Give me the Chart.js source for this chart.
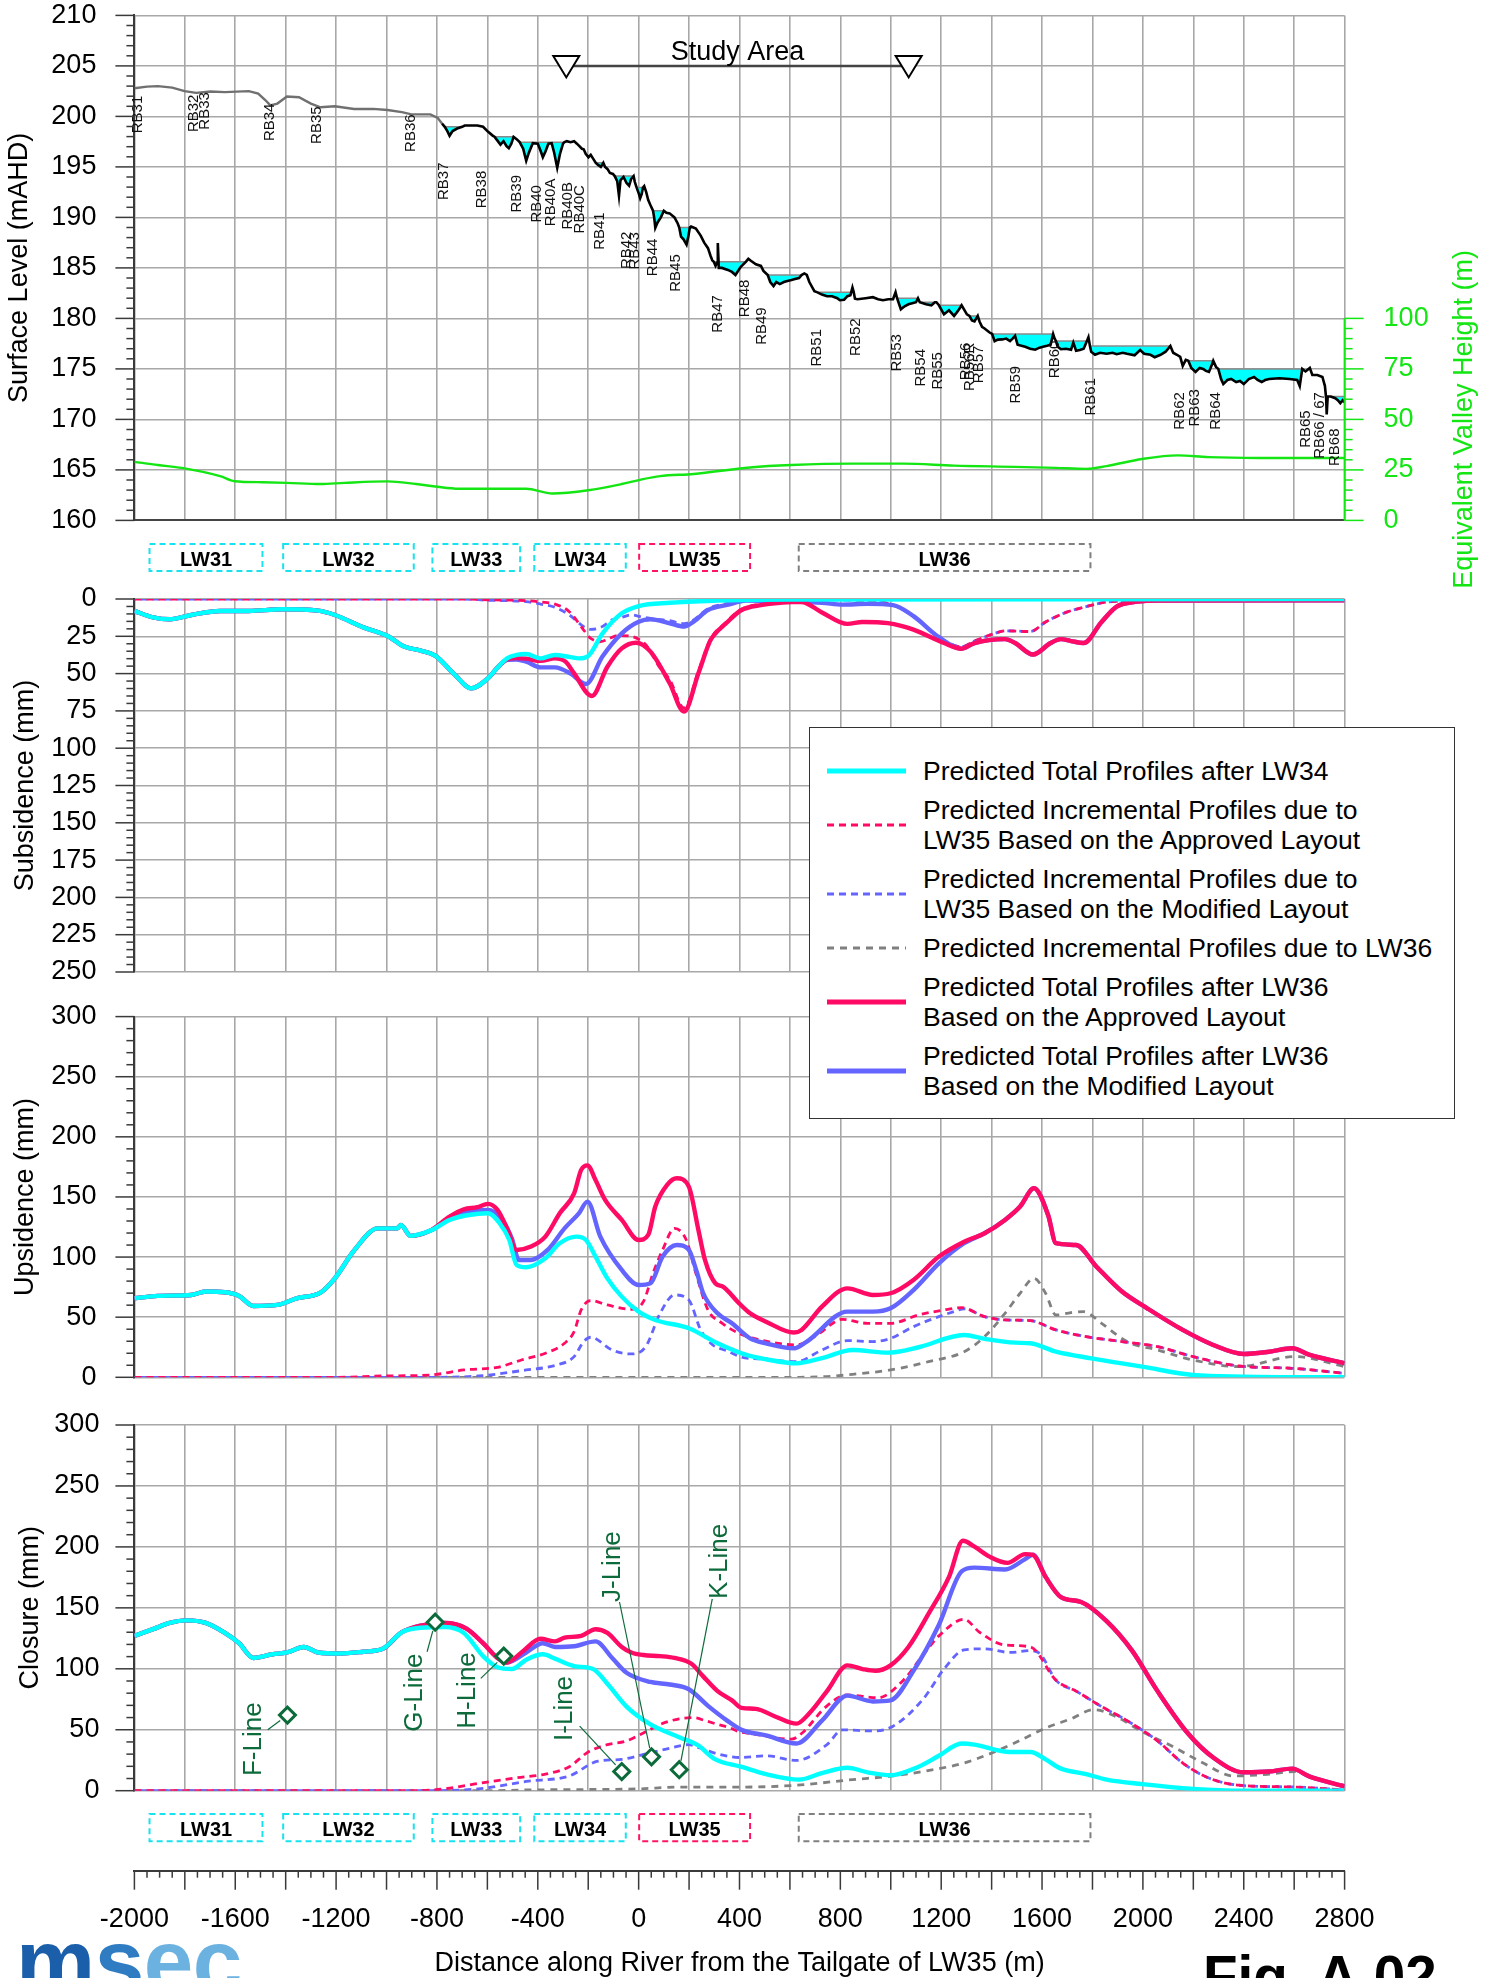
<!DOCTYPE html>
<html lang="en">
<head>
<meta charset="utf-8">
<title>River profile – subsidence, upsidence and closure along the river</title>
<script src="https://cdn.jsdelivr.net/npm/chart.js@4.4.1/dist/chart.umd.min.js"></script>
<style>
  html, body { margin: 0; padding: 0; background: #fff; }
  body { position: relative; width: 1497px; height: 1978px; overflow: hidden;
         font-family: "Liberation Sans", Arial, Helvetica, sans-serif; }
  canvas { position: absolute; left: 0; }
  #legend { position: absolute; left: 809px; top: 727px; width: 646px; height: 392px;
            box-sizing: border-box; border: 1.5px solid #333; background: #fff;
            padding-top: 28px; display: flex; flex-direction: column; gap: 9px; z-index: 5; }
  .entry { position: relative; padding-left: 113px; font-size: 26.5px; line-height: 30px;
           color: #000; white-space: nowrap; }
  .entry svg { position: absolute; left: 17px; top: 50%; transform: translateY(-50%); }
  #logo { position: absolute; left: 16px; top: 1917px; font: bold 89px/89px "Liberation Sans", Arial, sans-serif;
          letter-spacing: -0.5px; z-index: 5; }
  #fig { position: absolute; left: 1203px; top: 1949px; font: bold 56.6px/56.6px "Liberation Sans", Arial, sans-serif;
         color: #000; z-index: 5; }
</style>
</head>
<body>
<canvas id="cRiver" width="1497" height="600" style="top:0"></canvas>
<canvas id="cSubs" width="1497" height="455" style="top:540px"></canvas>
<canvas id="cUps" width="1497" height="400" style="top:995px"></canvas>
<canvas id="cClos" width="1497" height="465" style="top:1395px"></canvas>
<canvas id="cAxis" width="1497" height="118" style="top:1860px"></canvas>
<div id="legend"></div>
<div id="logo"><span style="color:#1b5ea9">m</span><span style="color:#2f7cc2">s</span><span style="color:#6cb2e1">ec</span></div>
<div id="fig">Fig. A.02</div>
<script>
// ---------------------------------------------------------------------------
// River bed profile (distance along river, m) / bed level and pool surface (mAHD)
// ---------------------------------------------------------------------------
const riverX = [-2000,-1950,-1907,-1850,-1801,-1755,-1698,-1641,-1546,-1509,-1480,-1461,-1433,-1395,-1347,-1300,-1262,-1205,-1129,-1053,-996,-939,-901,-826,-797,
  -780,-769,-760,-750,-738,-720,-700,-690,-640,-617,-598,-579,-572,-560,-548,-536,-524,-515,-505,-496,-484,
  -472,-458,-446,-437,-420,-400,-389,-380,-370,-358,-345,-335,-323,-312,-300,-294,-285,-270,-256,-245,-237,-225,-218,-210,-199,-190,-180,
  -170,-161,-150,-140,-133,-124,-114,-102,-95,-85,-78,-72,-60,-48,-38,-30,-20,-15,-8,0,6,12,17,22,30,38,47,
  57,62,66,75,88,100,110,123,142,155,161,168,178,190,197,203,208,227,246,260,275,285,292,
  298,305,311,314,318,330,354,370,384,405,425,435,445,465,485,495,
  512,522,535,546,560,576,590,606,620,636,646,657,667,677,697,
  707,727,747,767,788,798,815,828,840,848,853,858,868,900,929,950,969,990,1009,1019,
  1025,1040,1055,1070,1085,1100,1108,1115,1140,1161,1175,1181,1191,1211,1231,1251,1262,1271,1281,1302,
  1312,1322,1332,1345,1352,1362,1372,1382,1392,
  1402,1412,1425,1442,1458,1473,1483,1493,1503,1518,1533,1553,1573,1590,1604,1620,1634,1644,1650,
  1655,1662,1675,1695,1715,1724,1735,1750,1765,1778,1784,
  1790,1795,1810,1830,1856,1880,1896,1920,1937,1967,1989,2005,2030,2047,2070,2090,2109,
  2120,2135,2148,2158,2170,2180,2192,2209,2225,2239,2250,2262,2272,2279,2290,
  2299,2310,2319,2335,2350,2370,2385,2400,2420,2441,2455,2471,2485,2501,2541,2582,2612,2622,2632,
  2645,2662,2672,2692,2712,2722,2727,2729,2733,2745,2763,2773,2783,2792,2800];
const bedLevel = [202.79,202.95,203.0,202.85,202.5,202.33,202.47,202.4,202.5,202.26,201.6,201.09,201.27,201.97,201.9,201.27,200.9,201.0,200.74,200.74,200.63,200.42,200.2,200.2,199.85,
  199.3,198.97,198.6,198.08,198.55,198.8,198.97,199.1,199.1,198.97,198.5,198.1,197.98,197.6,197.2,197.55,197.05,196.85,197.3,197.98,197.75,
  197.45,196.8,195.6,196.3,197.35,197.3,196.6,195.96,196.5,197.3,197.35,196.4,194.9,196.3,197.3,197.45,197.55,197.45,197.55,197.3,197.1,196.8,196.75,196.3,195.96,196.2,195.8,
  195.4,195.2,195.0,195.4,195.0,194.8,194.4,194.3,194.09,193.6,192.14,193.7,194.0,193.4,193.13,193.8,194.09,193.5,192.95,192.4,191.9,192.3,192.95,193.1,192.5,191.72,191.2,
  190.66,189.9,188.96,189.5,190.0,190.66,190.45,190.4,190.0,189.4,189.0,188.1,187.83,187.3,188.1,189.0,189.1,188.9,188.2,187.5,186.95,186.2,185.75,
  185.6,185.2,185.5,187.47,185.0,185.0,184.8,184.6,184.3,185.1,185.6,185.9,185.7,185.35,185.2,184.7,
  184.29,183.6,183.2,183.6,183.4,183.6,183.7,183.8,183.9,184.0,184.29,184.45,184.3,183.6,182.7,
  182.6,182.36,182.2,182.2,182.0,181.8,181.85,182.2,182.3,183.06,182.6,181.95,181.9,182.0,182.1,181.9,181.8,181.9,181.9,182.6,
  182.0,180.9,181.2,181.4,181.5,181.6,182.0,181.6,181.4,181.3,181.6,181.6,181.3,180.4,180.8,180.25,180.6,180.9,181.3,180.4,
  180.25,179.8,179.7,180.25,179.7,179.17,179.0,178.8,178.6,
  178.46,177.75,177.9,177.92,178.0,177.75,178.0,178.28,177.4,177.3,177.2,177.0,176.9,177.1,177.2,177.3,177.4,178.46,178.0,
  177.76,177.2,176.95,177.0,176.9,177.6,176.8,176.87,177.0,177.76,178.13,
  177.27,176.7,176.4,176.6,176.5,176.6,176.45,176.6,176.5,176.35,176.87,176.5,176.4,176.16,176.4,176.7,177.27,
  176.6,176.4,176.2,175.3,175.9,175.8,175.1,174.7,175.1,175.0,174.8,174.7,175.3,175.8,175.2,
  175.0,174.0,173.5,173.9,174.0,173.7,173.8,173.5,174.0,174.2,173.9,173.7,173.9,174.0,174.07,174.0,173.9,173.3,175.0,
  174.75,175.1,174.4,174.4,174.2,173.3,172.0,170.5,172.27,172.27,172.1,171.9,171.6,171.9,171.7];
const N = null;
const poolLevel = [N,N,N,N,N,N,N,N,N,N,N,N,N,N,N,N,N,N,N,N,N,N,N,N,N,
  N,198.97,198.97,198.97,198.97,198.97,198.97,N,N,N,N,N,197.98,197.98,197.98,197.98,197.98,197.98,197.98,197.98,N,
  197.45,197.45,197.45,197.45,197.45,197.45,197.45,197.45,197.45,197.45,197.45,197.45,197.45,197.45,197.45,197.45,N,N,N,N,N,N,N,N,N,N,N,
  195.4,195.4,195.4,195.4,N,N,N,N,194.09,194.09,194.09,194.09,194.09,194.09,194.09,194.09,194.09,N,192.95,192.95,192.95,192.95,192.95,N,N,N,N,
  190.66,190.66,190.66,190.66,190.66,190.66,N,N,N,N,189.0,189.0,189.0,189.0,189.0,189.0,N,N,N,N,N,N,N,
  185.6,185.6,185.6,185.6,185.6,185.6,185.6,185.6,185.6,185.6,185.6,N,N,N,N,N,
  184.29,184.29,184.29,184.29,184.29,184.29,184.29,184.29,184.29,184.29,184.29,N,N,N,N,
  182.6,182.6,182.6,182.6,182.6,182.6,182.6,182.6,182.6,182.6,182.6,N,N,N,N,N,N,N,N,N,
  182.0,182.0,182.0,182.0,182.0,182.0,182.0,181.6,181.6,181.6,181.6,N,181.3,181.3,181.3,181.3,181.3,181.3,181.3,N,
  180.25,180.25,180.25,180.25,N,N,N,N,N,
  178.46,178.46,178.46,178.46,178.46,178.46,178.46,178.46,178.46,178.46,178.46,178.46,178.46,178.46,178.46,178.46,178.46,178.46,N,
  177.76,177.76,177.76,177.76,177.76,177.76,177.76,177.76,177.76,177.76,N,
  177.27,177.27,177.27,177.27,177.27,177.27,177.27,177.27,177.27,177.27,177.27,177.27,177.27,177.27,177.27,177.27,177.27,
  N,N,N,N,N,175.8,175.8,175.8,175.8,175.8,175.8,175.8,175.8,175.8,N,
  175.0,175.0,175.0,175.0,175.0,175.0,175.0,175.0,175.0,175.0,175.0,175.0,175.0,175.0,175.0,175.0,175.0,175.0,175.0,
  N,N,N,N,N,N,N,N,N,172.27,172.27,172.27,172.27,172.27,172.27];

// Equivalent valley height along the river (m)
const valleyHeight = [[-2000,29],[-1907,27.4],[-1812,26],[-1660,21.9],[-1603,19.4],[-1490,18.9],[-1395,18.6],[-1262,18],[-1167,18.6],[-996,19.3],[-883,18],[-807,16.8],[-712,15.7],[-446,15.7],[-342,13.3],[-200,14.9],[-67,18],[9,20.2],[85,21.9],[218,23],[442,26.2],[606,27.4],[848,28.1],[1050,28.1],[1251,27.1],[1493,26.5],[1655,26],[1775,25.5],[1856,26.9],[1997,30.4],[2138,32.2],[2259,31.3],[2461,30.9],[2800,30.9]];

// Rock bar labels: name, chainage (m) and level of the label's upper end (mAHD)
const rbNames = ['RB31','RB32','RB33','RB34','RB35','RB36','RB37','RB38','RB39','RB40','RB40A','RB40B','RB40C','RB41','RB42','RB43','RB44','RB45','RB47','RB48','RB49','RB51','RB52','RB53','RB54','RB55','RB56','RB56R','RB57','RB59','RB60','RB61','RB62','RB63','RB64','RB65','RB66 / 67','RB68'];
const rbX = [-1987,-1765,-1721,-1461,-1275,-905,-774,-621,-484,-404,-347,-281,-234,-152,-48,-14,57,146,314,421,489,707,862,1025,1120,1187,1296,1312,1350,1497,1650,1792,2148,2205,2290,2648,2703,2763];
const rbTop = [202.05,202.16,202.4,201.27,200.99,200.2,195.44,194.62,194.2,193.2,193.84,193.5,193.2,190.5,188.6,188.55,187.9,186.35,182.3,183.84,181.1,178.95,180.0,178.45,176.97,176.67,177.6,177.6,177.3,175.3,177.8,174.1,172.7,173.0,172.7,170.9,172.7,169.1];

// Study area limits (m) and level of the marker line (mAHD)
const studyArea = [-287, 1071];
const studyLevel = 205;

// Longwall panels shown under the profiles
const lwNames = ['LW31','LW32','LW33','LW34','LW35','LW36'];
const lwStart = [-1940,-1410,-818,-414,2,635];
const lwEnd   = [-1492,-892,-470,-51,442,1792];
const lwColors = ['#18e2ee','#18e2ee','#18e2ee','#18e2ee','#ff1464','#808080'];

// ---------------------------------------------------------------------------
// Subsidence (mm)
// ---------------------------------------------------------------------------
const subsLeft = [[-2000,8],[-1926,12.3],[-1860,13.6],[-1774,10.7],[-1660,8],[-1546,8],[-1414,6.9],[-1271,7.8],[-1205,10.7],[-1091,19],[-996,24.8],[-930,31.9],[-864,34.6],[-807,38],[-731,50.5],[-664,59.9],[-598,53.2],[-560,46]];
const subsAfterLW34 = [[-522,39.8],[-484,37.5],[-446,36.9],[-389,39.8],[-332,37.5],[-270,39],[-237,39.8],[-200,38.2],[-143,23],[-67,9.6],[0,4.7],[123,2.5],[313,1.1],[600,0.3],[2800,0]];
const subsApproved = [[-522,40.5],[-484,39.6],[-446,40],[-389,41.5],[-332,39.8],[-290,42],[-256,49.8],[-186,65],[-124,45.4],[-67,33.1],[-10,29.3],[47,35.3],[123,56.5],[180,75.5],[237,49.8],[283,28.2],[304,23.1],[344,16.7],[405,7.7],[485,4.1],[606,2.1],[646,2],[727,9],[828,16.7],[888,15.4],[989,16.2],[1090,20.5],[1211,29.5],[1281,33.3]];
const subsModified = [[-522,40.8],[-484,40.5],[-446,42],[-389,45.8],[-332,45.8],[-270,50],[-209,57],[-143,38.4],[-67,23],[0,15.2],[47,13.6],[123,16.3],[180,18.5],[218,15.2],[275,7.4],[351,4],[427,1.1],[606,1.8],[727,2.5],[808,3.8],[908,3.3],[1009,4.1],[1090,11.5],[1191,25.6],[1281,33.3]];
const subsRight = [[1332,29.5],[1453,26.9],[1493,29.5],[1564,37.2],[1634,29.5],[1675,26.9],[1715,28.2],[1765,29.5],[1836,15.4],[1896,5.1],[1977,1.8],[2058,1],[2800,0.8]];
const subsIncApproved = [[-2000,0],[-700,0],[-600,0.5],[-541,0.7],[-446,1.1],[-389,2],[-332,3.4],[-275,8.5],[-218,20.8],[-190,26.4],[-150,28.5],[-124,27],[-80,24.5],[-30,25],[0,27],[30,31],[80,45],[123,54],[180,73],[237,48.5],[283,27.5],[344,16],[405,7],[485,3.5],[606,1],[700,0.3],[900,1],[1009,4]];
const subsIncModified = [[-2000,0],[-700,0],[-600,0.8],[-446,1.8],[-389,3.4],[-332,5.6],[-275,10.7],[-218,18.5],[-190,20.3],[-150,19],[-105,14],[-67,12.3],[-29,10.7],[19,12.3],[66,13.5],[123,14.5],[180,16.5],[218,14],[275,6.5],[351,3],[427,1],[606,0.5],[900,1],[1009,4]];
const subsIncRight = [[1090,11.5],[1191,25.6],[1281,32],[1332,28.2],[1412,23.1],[1453,21.3],[1554,21.8],[1614,15.4],[1695,9],[1775,5.1],[1856,2],[1917,1.5],[2000,0.5],[2800,0]];
const subsIncLW36 = [[400,0],[2800,0]];

// ---------------------------------------------------------------------------
// Upsidence (mm)
// ---------------------------------------------------------------------------
const upsLeft = [[-2000,65.7],[-1907,67.7],[-1774,68.5],[-1717,71.3],[-1641,70.7],[-1585,67.7],[-1528,59.3],[-1433,60.2],[-1357,65.7],[-1262,70.4],[-1205,82.3],[-1129,105.4],[-1034,123.9],[-958,123.9],[-943,126.7],[-905,117.6],[-826,122]];
const upsAfterLW34 = [[-750,130.9],[-674,135],[-598,136.4],[-551,128],[-513,114.2],[-484,93.4],[-446,91.5],[-370,99],[-313,111.5],[-247,117],[-209,114.2],[-171,100.4],[-124,82.3],[-67,67.1],[0,54.6],[66,47.7],[199,40.8],[313,28.3],[427,18.6],[505,15],[626,11.6],[727,16],[848,22.7],[989,20.5],[1110,25],[1291,35.2],[1372,32],[1493,28.8],[1554,28.3],[1655,21.3],[1795,15.8],[1997,8.9],[2199,1.9],[2400,0.6],[2800,0]];
const upsApproved = [[-750,133.6],[-693,139.7],[-640,141.5],[-598,144.2],[-560,139.2],[-522,123.9],[-484,105.9],[-427,108.7],[-370,117],[-313,136.4],[-256,153],[-228,172.5],[-203,176.3],[-171,164],[-133,147.5],[-67,130.9],[0,114.2],[38,118.4],[66,142],[113,160],[151,165.5],[199,158.6],[237,122.5],[263,97.6],[304,78.2],[334,75.4],[398,61.6],[442,53.2],[505,46.3],[616,37.2],[646,39.4],[727,58.8],[828,74],[929,68.5],[999,69.9],[1090,81],[1191,100.4],[1291,112.8]];
const upsModified = [[-750,132],[-674,137.8],[-598,139.2],[-551,133.6],[-503,115.6],[-475,97.6],[-427,97.6],[-361,105.9],[-294,123.9],[-237,136.4],[-203,146.1],[-152,117],[-67,89.3],[0,76.8],[47,78.2],[95,100.4],[151,110],[199,105.9],[230,88],[256,69.9],[313,53.2],[370,44.9],[442,32.4],[505,28.3],[616,24.1],[667,29.7],[828,54.6],[929,54.6],[999,57.4],[1090,72.6],[1191,94.8],[1291,111.5]];
const upsRight = [[1372,119.8],[1453,130.9],[1513,142],[1568,157.2],[1624,135],[1655,111.5],[1735,110],[1816,92],[1917,71.3],[2017,57.4],[2158,39.4],[2279,26.9],[2400,19.4],[2501,21.3],[2592,24.1],[2662,18.6],[2800,11.6]];
const upsIncApproved = [[-2000,0],[-1205,0],[-1016,1.1],[-826,1.9],[-693,6.1],[-560,8.3],[-465,14.4],[-370,20],[-294,28.3],[-256,38],[-228,56],[-190,63.8],[-124,60.2],[-29,56.6],[19,63],[57,86.5],[95,105.9],[142,123.9],[189,114.2],[227,86.5],[275,56],[332,44.9],[398,36.6],[505,30],[626,26.9],[707,35.2],[808,48.2],[908,44.9],[999,44.9],[1110,51.8],[1211,56],[1281,57.9]];
const upsIncModified = [[-2000,0],[-826,0],[-636,1.1],[-446,6.1],[-323,10.3],[-256,17.2],[-218,29.7],[-190,33.3],[-105,22.7],[-29,19.4],[28,25.5],[85,53.2],[142,68.5],[199,64.3],[246,39.4],[294,26.9],[350,22],[405,17],[505,15],[626,13],[727,22.7],[828,30.5],[929,29.7],[999,32.4],[1090,42.1],[1191,50.5],[1251,54.6],[1291,57]];
const upsIncRight = [[1372,50.5],[1453,47.7],[1554,47.1],[1655,39.4],[1775,33.8],[1917,29.7],[2058,25.5],[2199,17.2],[2380,9.4],[2592,7.5],[2800,3.3]];
const upsIncLW36 = [[-2000,0],[600,0],[747,0.6],[848,2.5],[999,6.1],[1150,13],[1291,21.3],[1372,33.8],[1453,53.2],[1513,69.9],[1568,82.3],[1614,69.9],[1655,51.8],[1715,53.8],[1765,54.6],[1836,44.9],[1937,29.7],[2058,22.7],[2199,14.4],[2380,8.9],[2602,17.2],[2800,8.9]];

// ---------------------------------------------------------------------------
// Closure (mm)
// ---------------------------------------------------------------------------
const closLeft = [[-2000,127],[-1926,132.5],[-1860,137.6],[-1793,139.7],[-1717,137.6],[-1641,129.4],[-1585,121],[-1528,108.9],[-1452,111.9],[-1395,113.4],[-1328,117.9],[-1271,113.4],[-1186,112.5],[-1091,114],[-1015,116.4],[-939,130]];
const closAfterLW34 = [[-864,133.7],[-769,134.3],[-693,129.4],[-617,110.4],[-560,101.3],[-503,99.8],[-446,107.4],[-380,111.9],[-332,108.3],[-256,102.2],[-181,99.8],[-124,87.7],[-48,69],[47,54.4],[161,43.9],[243,36.3],[275,30.2],[304,25.7],[405,19.7],[505,13.6],[636,9.1],[727,14.5],[828,18.8],[908,15.1],[999,12.7],[1110,19.7],[1191,28.7],[1281,38.7],[1332,37.8],[1473,31.8],[1554,31.8],[1614,25.7],[1675,18.1],[1775,13.6],[1856,9.1],[1997,5.4],[2199,1.5],[2400,0],[2800,0]];
const closMid = [[-864,135.5],[-769,137.6],[-683,133],[-617,121],[-560,108.9],[-522,105.2]];
const closApproved = [[-465,113.4],[-389,124.6],[-332,122.5],[-294,125.5],[-228,127],[-171,132.5],[-124,129.4],[-67,117.9],[-29,113.4],[19,111.3],[85,110.4],[142,108.9],[208,104.3],[256,93.8],[313,81.7],[370,74.1],[408,68],[465,67.1],[546,60.5],[626,55],[677,63.5],[747,81.7],[828,102.8],[888,99.8],[938,98.3],[999,102.8],[1070,117.9],[1150,145.2],[1231,175.4],[1286,205],[1332,200.2],[1392,192],[1463,186.9],[1533,194.1]];
const closModified = [[-446,113.4],[-380,121],[-332,117.9],[-256,118.5],[-171,122.5],[-105,108.9],[-48,96.8],[47,89.2],[123,87.1],[199,83.2],[275,69.6],[351,57.5],[408,49.9],[505,45.4],[626,38.7],[727,57.5],[828,78],[929,73.2],[999,74.1],[1090,98.3],[1191,136.1],[1281,179.9],[1332,183],[1453,181.5],[1533,190]];
const closRight = [[1564,193.5],[1614,175.4],[1675,158.8],[1755,154.8],[1856,139.1],[1957,114.9],[2058,81.7],[2179,46.9],[2279,27.2],[2400,15.1],[2501,15.7],[2592,18.1],[2662,11.5],[2800,3.6]];
const closIncApproved = [[-2000,0],[-900,0],[-769,1.5],[-636,6],[-484,10.6],[-370,13.6],[-275,19.7],[-200,31.8],[-124,37.8],[-48,40.8],[28,48.4],[85,54.4],[161,59],[218,59.9],[263,57.5],[313,54.4],[364,51.4],[398,48.4],[445,46.9],[606,42.3],[646,46.9],[747,69.6],[828,78.6],[949,76.2],[1050,90.7],[1130,111.9],[1191,127],[1291,140.6],[1352,130],[1453,119.5],[1554,117.9]];
const closIncModified = [[-2000,0],[-900,0],[-636,1.5],[-446,7.6],[-275,12.1],[-162,24.2],[-67,25.7],[28,30.2],[123,34.8],[199,37.8],[243,35],[313,30.2],[405,27.2],[505,28.7],[626,24.8],[747,37.8],[808,49.9],[929,49],[1009,52.9],[1130,75.6],[1211,99.8],[1291,115.5],[1372,116.4],[1473,113.4],[1554,114.9],[1594,112]];
const closIncRight = [[1655,90.7],[1735,81.7],[1836,69],[1937,57.5],[2058,40.8],[2158,22.7],[2259,10.6],[2380,4.5],[2602,3],[2800,0.6]];
const closIncLW36 = [[-2000,0],[-600,0],[-446,0.6],[-256,0.9],[0,1.5],[161,3],[427,3],[626,4.5],[848,9.1],[1009,12.1],[1191,18.1],[1291,22.7],[1392,30.2],[1493,39.3],[1614,51.4],[1715,59],[1806,66.5],[1896,60.5],[1997,48.4],[2118,36.3],[2239,22.7],[2360,12.1],[2501,13.6],[2602,15.7],[2702,9.1],[2800,3]];

// Closure monitoring lines: name, chainage (m), closure (mm)
const monNames = ['F-Line','G-Line','H-Line','I-Line','J-Line','K-Line'];
const monX = [-1393,-807,-535,-67,51,161];
const monValue = [62,138.2,110.4,15.7,27.8,17.2];
// label anchor (chainage, closure at start of text) and leader start
const monLabelX = [-1527,-886,-678,-294,-101,322];
const monLabelY = [12,48.4,50.8,40.8,154.8,157.3];
const monLeadX = [-1471,-839,-626,-234,-76,292];
const monLeadY = [50,114,92.2,52.9,154.8,157.3];

// Series names as set out in the legend
const seriesNames = [
  ['Predicted Total Profiles after LW34'],
  ['Predicted Incremental Profiles due to', 'LW35 Based on the Approved Layout'],
  ['Predicted Incremental Profiles due to', 'LW35 Based on the Modified Layout'],
  ['Predicted Incremental Profiles due to LW36'],
  ['Predicted Total Profiles after LW36', 'Based on the Approved Layout'],
  ['Predicted Total Profiles after LW36', 'Based on the Modified Layout']
];

// ---------------------------------------------------------------------------
// Styling and helpers
// ---------------------------------------------------------------------------
const FONT = '"Liberation Sans", Arial, Helvetica, sans-serif';
const GRID = '#a8a8a8';
const AXIS = '#3a3a3a';
const CYAN = '#00ffff', RED = '#ff0a64', BLUE = '#6464ff', GREY = '#808080', GREEN = '#14e614', MON = '#0d6b3b';
const PLOT_LEFT = 134.4, PLOT_RIGHT = 1344.6, CANVAS_W = 1497;

Chart.defaults.font.family = FONT;
Chart.defaults.color = '#000';

const seriesStyle = [
  {borderColor: CYAN, borderWidth: 4.4, order: 1},
  {borderColor: RED, borderWidth: 2.8, borderDash: [7, 5], order: 4},
  {borderColor: BLUE, borderWidth: 2.8, borderDash: [7, 5], borderDashOffset: 6, order: 5},
  {borderColor: GREY, borderWidth: 2.8, borderDash: [7, 6], order: 6},
  {borderColor: RED, borderWidth: 4.4, order: 2},
  {borderColor: BLUE, borderWidth: 4.4, order: 3}
];

const pts = arr => arr.map(p => ({x: p[0], y: p[1]}));

function profileSets(list) {
  return list.map((arr, i) => Object.assign({
    label: seriesNames[i].join(' '),
    data: pts(arr),
    pointRadius: 0,
    fill: false,
    cubicInterpolationMode: 'monotone'
  }, seriesStyle[i]));
}

function xAxis() {
  return {
    type: 'linear', min: -2000, max: 2800,
    ticks: {display: false, stepSize: 200},
    grid: {color: GRID, lineWidth: 1.6, drawTicks: false},
    border: {display: false},
    afterFit(s) { s.height = 0; s.paddingLeft = 0; s.paddingRight = 0; }
  };
}

function yAxis(min, max, step, title, titlePad, labelPad, reverse) {
  return {
    type: 'linear', position: 'left', min, max, reverse: !!reverse,
    ticks: {stepSize: step, padding: labelPad, font: {size: 27}, color: '#000'},
    grid: {color: GRID, lineWidth: 1.6, drawTicks: false},
    border: {display: true, color: AXIS, width: 2},
    title: {display: true, text: title, font: {size: 27, lineHeight: 1}, color: '#000', padding: {top: titlePad, bottom: 0}},
    afterFit(s) { s.width = PLOT_LEFT; s.paddingTop = 0; s.paddingBottom = 0; }
  };
}

// small tick marks on the outside of the axes
const tickMarks = {
  id: 'tickMarks',
  afterDraw(chart, args, opts) {
    const ctx = chart.ctx, ca = chart.chartArea;
    (opts.items || []).forEach(it => {
      const s = chart.scales[it.scale];
      ctx.save();
      ctx.strokeStyle = it.color || AXIS;
      ctx.lineWidth = 1.5;
      const n = Math.round((it.to - it.from) / it.minor);
      for (let k = 0; k <= n; k++) {
        const v = it.from + k * it.minor;
        const r = v / it.major;
        const len = Math.abs(r - Math.round(r)) < 1e-6 ? it.majorLen : it.minorLen;
        const p = s.getPixelForValue(v);
        ctx.beginPath();
        if (it.side === 'left') { ctx.moveTo(ca.left - len, p); ctx.lineTo(ca.left, p); }
        else if (it.side === 'right') { ctx.moveTo(ca.right, p); ctx.lineTo(ca.right + len, p); }
        else { ctx.moveTo(p, ca.bottom); ctx.lineTo(p, ca.bottom + len); }
        ctx.stroke();
      }
      if (it.axisLine) {
        const a = s.getPixelForValue(it.from), b = s.getPixelForValue(it.to);
        ctx.lineWidth = 2;
        ctx.beginPath();
        ctx.moveTo(ca.right, a); ctx.lineTo(ca.right, b);
        ctx.stroke();
      }
      ctx.restore();
    });
  }
};

function vText(ctx, text, x, y, align) {
  ctx.save();
  ctx.translate(x, y);
  ctx.rotate(-Math.PI / 2);
  ctx.textAlign = align;
  ctx.textBaseline = 'middle';
  ctx.fillText(text, 0, 0);
  ctx.restore();
}

function drawLongwalls(chart, yTop, yBot) {
  const ctx = chart.ctx, xs = chart.scales.x;
  ctx.save();
  lwNames.forEach((name, i) => {
    const x0 = xs.getPixelForValue(lwStart[i]), x1 = xs.getPixelForValue(lwEnd[i]);
    ctx.setLineDash([6, 4]);
    ctx.lineWidth = 2;
    ctx.strokeStyle = lwColors[i];
    ctx.strokeRect(x0, yTop, x1 - x0, yBot - yTop);
    ctx.setLineDash([]);
    ctx.fillStyle = '#000';
    ctx.font = 'bold 20px ' + FONT;
    ctx.textAlign = 'center';
    ctx.textBaseline = 'middle';
    ctx.fillText(name, (x0 + x1) / 2, (yTop + yBot) / 2 + 3);
  });
  ctx.restore();
}

const common = {
  responsive: false, animation: false, devicePixelRatio: 1,
  events: [],
  plugins: {legend: {display: false}, tooltip: {enabled: false}}
};

// ---------------------------------------------------------------------------
// 1. Surface level profile with pools and equivalent valley height
// ---------------------------------------------------------------------------
const riverNotes = {
  id: 'riverNotes',
  afterDatasetsDraw(chart) {
    const ctx = chart.ctx, xs = chart.scales.x, ys = chart.scales.y;
    ctx.save();
    ctx.fillStyle = '#111';
    ctx.font = '15px ' + FONT;
    rbNames.forEach((n, i) => vText(ctx, n, xs.getPixelForValue(rbX[i]), ys.getPixelForValue(rbTop[i]), 'right'));
    // study area marker
    const xa = xs.getPixelForValue(studyArea[0]), xb = xs.getPixelForValue(studyArea[1]);
    const yl = ys.getPixelForValue(studyLevel);
    ctx.strokeStyle = '#444';
    ctx.lineWidth = 2.5;
    ctx.beginPath(); ctx.moveTo(xa, yl); ctx.lineTo(xb, yl); ctx.stroke();
    ctx.strokeStyle = '#000';
    ctx.lineWidth = 2;
    [xa, xb].forEach(x => {
      ctx.fillStyle = '#fff';
      ctx.beginPath();
      ctx.moveTo(x - 13, yl - 10); ctx.lineTo(x + 13, yl - 10); ctx.lineTo(x, yl + 11.5); ctx.closePath();
      ctx.fill(); ctx.stroke();
    });
    ctx.fillStyle = '#000';
    ctx.font = '27px ' + FONT;
    ctx.textAlign = 'center';
    ctx.textBaseline = 'alphabetic';
    ctx.fillText('Study Area', (xa + xb) / 2, yl - 6);
    ctx.restore();
  },
  afterDraw(chart) {
    const ctx = chart.ctx, y2 = chart.scales.y2;
    ctx.save();
    ctx.fillStyle = GREEN;
    ctx.font = '27px ' + FONT;
    vText(ctx, 'Equivalent Valley Height (m)', 1465, (y2.getPixelForValue(0) + y2.getPixelForValue(100)) / 2, 'center');
    ctx.restore();
  }
};

new Chart(document.getElementById('cRiver'), {
  type: 'line',
  data: {
    datasets: [
      {
        label: 'River bed', data: riverX.map((x, i) => ({x, y: bedLevel[i]})),
        borderColor: '#000', borderWidth: 2.6, pointRadius: 0, tension: 0, fill: false, order: 0,
        segment: {
          borderColor: c => c.p0.parsed.x < -790 ? '#707070' : '#000',
          borderWidth: c => c.p0.parsed.x < -790 ? 2.4 : 2.6
        }
      },
      {
        label: 'Pool surface', data: riverX.map((x, i) => ({x, y: poolLevel[i]})),
        borderColor: '#8a8a8a', borderWidth: 1.5, pointRadius: 0, tension: 0, spanGaps: false,
        backgroundColor: CYAN, fill: {target: 0, above: CYAN, below: 'rgba(0,0,0,0)'}, order: 1
      },
      {
        label: 'Equivalent Valley Height', data: pts(valleyHeight), yAxisID: 'y2',
        borderColor: GREEN, borderWidth: 2.4, pointRadius: 0, cubicInterpolationMode: 'monotone', fill: false, order: 2
      }
    ]
  },
  options: Object.assign({}, common, {
    layout: {padding: {top: 15.4, bottom: 79.6, left: 0, right: 0}},
    scales: {
      x: xAxis(),
      y: Object.assign(yAxis(160, 210, 5, 'Surface Level (mAHD)', 6, 38), {
        grid: {color: c => c.tick && c.tick.value === 160 ? '#444' : GRID, lineWidth: c => c.tick && c.tick.value === 160 ? 2 : 1.6, drawTicks: false}
      }),
      y2: {
        type: 'linear', position: 'right', min: 0, max: 250,
        ticks: {stepSize: 25, padding: 39, font: {size: 27}, color: GREEN, callback: v => (v <= 100 ? String(v) : '')},
        grid: {drawOnChartArea: false, drawTicks: false},
        border: {display: false},
        afterFit(s) { s.width = CANVAS_W - PLOT_RIGHT; s.paddingTop = 0; s.paddingBottom = 0; }
      }
    },
    plugins: Object.assign({}, common.plugins, {
      tickMarks: {items: [
        {scale: 'y', side: 'left', from: 160, to: 210, minor: 1, major: 5, minorLen: 8, majorLen: 19},
        {scale: 'y2', side: 'right', from: 0, to: 100, minor: 5, major: 25, minorLen: 8, majorLen: 19, color: GREEN, axisLine: true}
      ]}
    })
  }),
  plugins: [tickMarks, riverNotes]
});

// ---------------------------------------------------------------------------
// 2. Subsidence
// ---------------------------------------------------------------------------
new Chart(document.getElementById('cSubs'), {
  type: 'line',
  data: {datasets: profileSets([
    subsLeft.concat(subsAfterLW34),
    subsIncApproved.concat(subsIncRight),
    subsIncModified.concat(subsIncRight),
    subsIncLW36,
    subsLeft.concat(subsApproved, subsRight),
    subsLeft.concat(subsModified, subsRight)
  ])},
  options: Object.assign({}, common, {
    layout: {padding: {top: 59, bottom: 23, left: 0, right: CANVAS_W - PLOT_RIGHT}},
    scales: {x: xAxis(), y: yAxis(0, 250, 25, 'Subsidence (mm)', 12, 38, true)},
    plugins: Object.assign({}, common.plugins, {
      tickMarks: {items: [{scale: 'y', side: 'left', from: 0, to: 250, minor: 5, major: 25, minorLen: 8, majorLen: 19}]}
    })
  }),
  plugins: [tickMarks, {
    id: 'lwTop',
    afterDraw(chart) { drawLongwalls(chart, chart.chartArea.top - 55, chart.chartArea.top - 28); }
  }]
});

// ---------------------------------------------------------------------------
// 3. Upsidence
// ---------------------------------------------------------------------------
new Chart(document.getElementById('cUps'), {
  type: 'line',
  data: {datasets: profileSets([
    upsLeft.concat(upsAfterLW34),
    upsIncApproved.concat(upsIncRight),
    upsIncModified.concat(upsIncRight),
    upsIncLW36,
    upsLeft.concat(upsApproved, upsRight),
    upsLeft.concat(upsModified, upsRight)
  ])},
  options: Object.assign({}, common, {
    layout: {padding: {top: 21.6, bottom: 17.7, left: 0, right: CANVAS_W - PLOT_RIGHT}},
    scales: {x: xAxis(), y: yAxis(0, 300, 50, 'Upsidence (mm)', 12.5, 38)},
    plugins: Object.assign({}, common.plugins, {
      tickMarks: {items: [{scale: 'y', side: 'left', from: 0, to: 300, minor: 10, major: 50, minorLen: 8, majorLen: 19}]}
    })
  }),
  plugins: [tickMarks]
});

// ---------------------------------------------------------------------------
// 4. Closure with monitoring lines
// ---------------------------------------------------------------------------
const closSets = profileSets([
  closLeft.concat(closAfterLW34),
  closIncApproved.concat(closIncRight),
  closIncModified.concat(closIncRight),
  closIncLW36,
  closLeft.concat(closMid, closApproved, closRight),
  closLeft.concat(closMid, closModified, closRight)
]);
closSets.push({
  label: 'Monitoring lines', data: monX.map((x, i) => ({x, y: monValue[i]})),
  showLine: false, pointStyle: 'rectRot', pointRadius: 8, pointBorderWidth: 3,
  pointBorderColor: MON, pointBackgroundColor: '#fff', order: 0
});

new Chart(document.getElementById('cClos'), {
  type: 'line',
  data: {datasets: closSets},
  options: Object.assign({}, common, {
    layout: {padding: {top: 30, bottom: 69.3, left: 0, right: CANVAS_W - PLOT_RIGHT}},
    scales: {x: xAxis(), y: yAxis(0, 300, 50, 'Closure (mm)', 17, 35)},
    plugins: Object.assign({}, common.plugins, {
      tickMarks: {items: [{scale: 'y', side: 'left', from: 0, to: 300, minor: 10, major: 50, minorLen: 8, majorLen: 19}]}
    })
  }),
  plugins: [tickMarks, {
    id: 'monitoring',
    afterDatasetsDraw(chart) {
      const ctx = chart.ctx, xs = chart.scales.x, ys = chart.scales.y;
      ctx.save();
      ctx.strokeStyle = MON;
      ctx.fillStyle = MON;
      ctx.lineWidth = 1.2;
      ctx.font = '26px ' + FONT;
      monNames.forEach((n, i) => {
        const px = xs.getPixelForValue(monX[i]), py = ys.getPixelForValue(monValue[i]);
        const lx = xs.getPixelForValue(monLeadX[i]), ly = ys.getPixelForValue(monLeadY[i]);
        const dx = px - lx, dy = py - ly, d = Math.hypot(dx, dy);
        ctx.beginPath();
        ctx.moveTo(lx, ly);
        ctx.lineTo(px - dx / d * 9, py - dy / d * 9);
        ctx.stroke();
        vText(ctx, n, xs.getPixelForValue(monLabelX[i]), ys.getPixelForValue(monLabelY[i]), 'left');
      });
      ctx.restore();
    },
    afterDraw(chart) { drawLongwalls(chart, chart.chartArea.bottom + 23.3, chart.chartArea.bottom + 50.5); }
  }]
});

// ---------------------------------------------------------------------------
// 5. Shared distance axis
// ---------------------------------------------------------------------------
new Chart(document.getElementById('cAxis'), {
  type: 'line',
  data: {datasets: []},
  options: Object.assign({}, common, {
    layout: {padding: {top: 0, bottom: 0, left: PLOT_LEFT, right: CANVAS_W - PLOT_RIGHT}},
    scales: {
      x: {
        type: 'linear', min: -2000, max: 2800, position: 'bottom',
        ticks: {stepSize: 400, padding: 33, font: {size: 27}, color: '#000', maxRotation: 0, autoSkip: false, callback: v => String(v)},
        grid: {drawOnChartArea: false, drawTicks: false},
        border: {display: true, color: AXIS, width: 2},
        title: {display: true, text: 'Distance along River from the Tailgate of LW35 (m)', font: {size: 27, lineHeight: 1}, color: '#000', padding: {top: 0, bottom: 1}},
        afterFit(s) { s.height = 107.3; s.paddingLeft = 0; s.paddingRight = 0; }
      },
      y: {display: false, min: 0, max: 1}
    },
    plugins: Object.assign({}, common.plugins, {
      tickMarks: {items: [{scale: 'x', side: 'bottom', from: -2000, to: 2800, minor: 50, major: 200, minorLen: 7, majorLen: 19}]}
    })
  }),
  plugins: [tickMarks]
});

// ---------------------------------------------------------------------------
// Legend shared by the three profile plots
// ---------------------------------------------------------------------------
const legendEl = document.getElementById('legend');
seriesNames.forEach((lines, i) => {
  const st = seriesStyle[i];
  const dash = st.borderDash ? ` stroke-dasharray="${st.borderDash.join(',')}"` : '';
  const w = st.borderDash ? 3 : 5;
  const row = document.createElement('div');
  row.className = 'entry';
  row.innerHTML = `<svg width="79" height="10"><line x1="0" y1="5" x2="79" y2="5" stroke="${st.borderColor}" stroke-width="${w}"${dash}/></svg>` + lines.join('<br>');
  legendEl.appendChild(row);
});
</script>
</body>
</html>
